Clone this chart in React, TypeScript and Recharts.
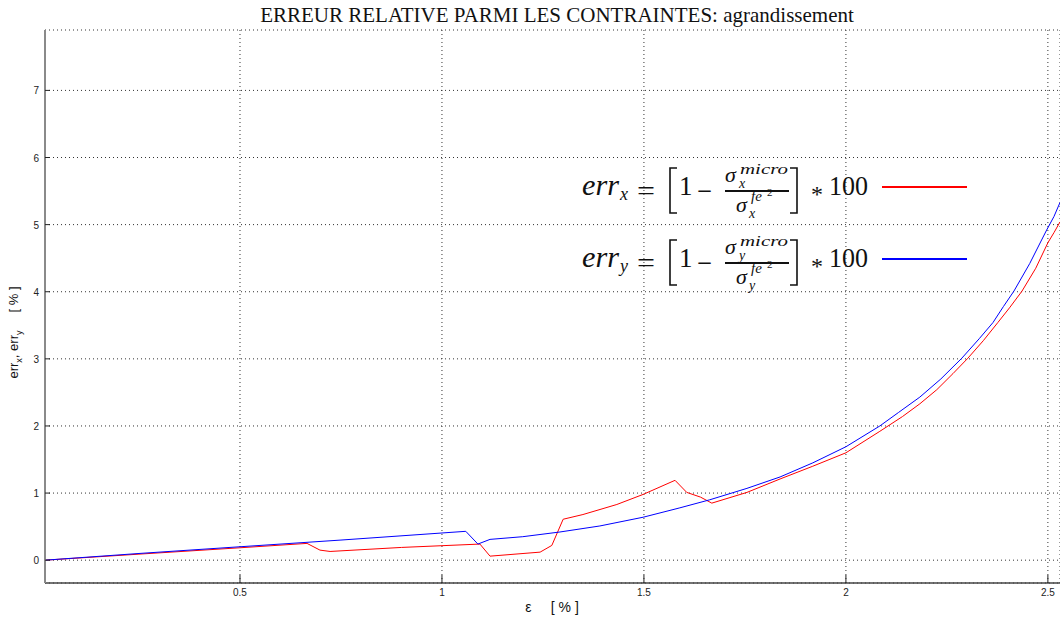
import { CartesianGrid, Legend, Line, LineChart, XAxis, YAxis } from "recharts";

// strain eps [%] and relative error on sigma_x (red)
const xRed = [
  0.017, 0.25, 0.5, 0.666, 0.698, 0.723, 0.9, 1.094, 1.119, 1.243, 1.272, 1.3,
  1.349, 1.433, 1.498, 1.577, 1.606, 1.64, 1.668, 1.755, 1.837, 1.918, 2.0,
  2.084, 2.14, 2.183, 2.225, 2.265, 2.302, 2.34, 2.376, 2.405, 2.436, 2.47,
  2.5, 2.515, 2.53,
];
const errX = [
  0, 0.09, 0.185, 0.25, 0.15, 0.13, 0.19, 0.24, 0.06, 0.12, 0.22, 0.61, 0.68,
  0.83, 0.98, 1.19, 1.01, 0.94, 0.85, 1.01, 1.21, 1.4, 1.6, 1.92, 2.14, 2.33,
  2.54, 2.78, 3.01, 3.27, 3.54, 3.76, 4.01, 4.35, 4.73, 4.88, 5.04,
];

// relative error on sigma_y (blue)
const xBlue = [
  0.017, 0.25, 0.5, 0.75, 1.059, 1.089, 1.119, 1.2, 1.292, 1.391, 1.498, 1.589,
  1.663, 1.755, 1.837, 1.918, 2.0, 2.084, 2.13, 2.183, 2.235, 2.287, 2.33,
  2.364, 2.39, 2.416, 2.455, 2.497, 2.515, 2.53,
];
const errY = [
  0, 0.1, 0.2, 0.3, 0.43, 0.24, 0.31, 0.35, 0.42, 0.51, 0.64, 0.78, 0.9, 1.07,
  1.24, 1.45, 1.69, 2.0, 2.2, 2.43, 2.7, 3.01, 3.3, 3.54, 3.78, 4.01, 4.42,
  4.92, 5.12, 5.33,
];

const xTicks = [0.5, 1, 1.5, 2, 2.5];
const yTicks = [0, 1, 2, 3, 4, 5, 6, 7];

const redData = xRed.map((x, i) => ({ x, v: errX[i] }));
const blueData = xBlue.map((x, i) => ({ x, v: errY[i] }));

const SANS = "'Liberation Sans', Arial, sans-serif";
const SERIF = "'Liberation Serif', 'Times New Roman', serif";

function XTick({ x, y, payload }: any) {
  return (
    <g>
      <line x1={x} x2={x} y1={y} y2={y - 8} stroke="#222" />
      <text x={x} y={y + 13} textAnchor="middle" fontSize={10} fontFamily={SANS} fill="#222">
        {payload.value}
      </text>
    </g>
  );
}

function YTick({ x, y, payload }: any) {
  return (
    <g>
      <line x1={x} x2={x + 5} y1={y} y2={y} stroke="#222" />
      <text x={x - 6} y={y + 4} textAnchor="end" fontSize={10} fontFamily={SANS} fill="#222">
        {payload.value}
      </text>
    </g>
  );
}

function YLabel({ viewBox }: any) {
  const cx = viewBox.x + 18;
  const cy = viewBox.y + viewBox.height / 2 + 26;
  return (
    <text
      x={cx}
      y={cy}
      transform={`rotate(-90 ${cx} ${cy})`}
      textAnchor="middle"
      fontSize={13}
      fontFamily={SANS}
      fill="#111"
    >
      err<tspan fontSize={9} dy={4}>x</tspan>
      <tspan dy={-4}>, err</tspan>
      <tspan fontSize={9} dy={4}>y</tspan>
      <tspan dy={-4} xmlSpace="preserve">{"     [ % ]"}</tspan>
    </text>
  );
}

function XLabel({ viewBox }: any) {
  return (
    <text
      x={552}
      y={viewBox.y + 29}
      textAnchor="middle"
      fontSize={14}
      fontFamily={SANS}
      fill="#111"
      xmlSpace="preserve"
    >
      {"ε     [ % ]"}
    </text>
  );
}

function Formula({ dy, sub, color }: { dy: number; sub: string; color: string }) {
  return (
    <g transform={`translate(0, ${dy})`} fontFamily={SERIF} fill="#111">
      <text x={582} y={195} fontSize={29} fontStyle="italic" textLength={37} lengthAdjust="spacingAndGlyphs">
        err
      </text>
      <text x={620} y={200} fontSize={18} fontStyle="italic">{sub}</text>
      <text x={637} y={200} fontSize={28} textLength={18} lengthAdjust="spacingAndGlyphs">=</text>
      <path d="M677 168 H670 V213 H677" stroke="#111" strokeWidth={1.6} fill="none" />
      <text x={679} y={195} fontSize={27}>1</text>
      <text x={697} y={200} fontSize={27} textLength={15} lengthAdjust="spacingAndGlyphs">−</text>
      <line x1={725} x2={789} y1={191} y2={191} stroke="#111" strokeWidth={2} />
      <text x={725} y={182} fontSize={22} fontStyle="italic">σ</text>
      <text x={739} y={188} fontSize={14} fontStyle="italic">{sub}</text>
      <text x={740} y={174} fontSize={15} fontStyle="italic" textLength={48} lengthAdjust="spacingAndGlyphs">
        micro
      </text>
      <text x={736} y={212} fontSize={22} fontStyle="italic">σ</text>
      <text x={749} y={218} fontSize={14} fontStyle="italic">{sub}</text>
      <text x={751} y={201} fontSize={15} fontStyle="italic">fe</text>
      <text x={767} y={196} fontSize={11}>2</text>
      <path d="M790 168 H797 V213 H790" stroke="#111" strokeWidth={1.6} fill="none" />
      <text x={811} y={202} fontSize={24}>*</text>
      <text x={829} y={195} fontSize={27} textLength={39} lengthAdjust="spacingAndGlyphs">100</text>
      <line x1={882} x2={967} y1={187} y2={187} stroke={color} strokeWidth={2} />
    </g>
  );
}

function FormulaLegend() {
  return (
    <svg width={1060} height={618} style={{ display: "block" }}>
      <Formula dy={0} sub="x" color="#ff0000" />
      <Formula dy={72} sub="y" color="#0000ff" />
    </svg>
  );
}

export default function App() {
  return (
    <div style={{ position: "absolute", left: 0, top: 0, width: 1060, height: 618, background: "#fff" }}>
      <div
        style={{
          position: "absolute",
          left: 0,
          top: 3,
          width: 1114,
          textAlign: "center",
          fontFamily: SERIF,
          fontSize: 21,
          color: "#111",
          zIndex: 2,
          whiteSpace: "nowrap",
        }}
      >
        ERREUR RELATIVE PARMI LES CONTRAINTES: agrandissement
      </div>
      <LineChart width={1060} height={618} margin={{ top: 30, right: 0, bottom: 0, left: 0 }}>
        <CartesianGrid stroke="#333" strokeDasharray="1 3" />
        <XAxis
          type="number"
          dataKey="x"
          domain={[0.0173, 2.53]}
          allowDataOverflow
          ticks={xTicks}
          height={35}
          tickSize={0}
          tickMargin={0}
          tick={<XTick />}
          tickLine={false}
          axisLine={{ stroke: "#444", strokeWidth: 1.5 }}
          label={<XLabel />}
        />
        <YAxis
          type="number"
          domain={[-0.34, 7.9]}
          allowDataOverflow
          ticks={yTicks}
          width={45}
          tickSize={0}
          tickMargin={0}
          tick={<YTick />}
          tickLine={false}
          axisLine={{ stroke: "#8a8a8a", strokeWidth: 2 }}
          label={<YLabel />}
        />
        <Line
          data={redData}
          dataKey="v"
          type="linear"
          stroke="#ff0000"
          strokeWidth={1}
          dot={false}
          isAnimationActive={false}
        />
        <Line
          data={blueData}
          dataKey="v"
          type="linear"
          stroke="#0000ff"
          strokeWidth={1}
          dot={false}
          isAnimationActive={false}
        />
        <Legend
          layout="horizontal"
          verticalAlign="middle"
          align="center"
          wrapperStyle={{ position: "absolute", left: 0, top: 0, width: 1060, height: 618, pointerEvents: "none" }}
          content={() => <FormulaLegend />}
        />
      </LineChart>
    </div>
  );
}
